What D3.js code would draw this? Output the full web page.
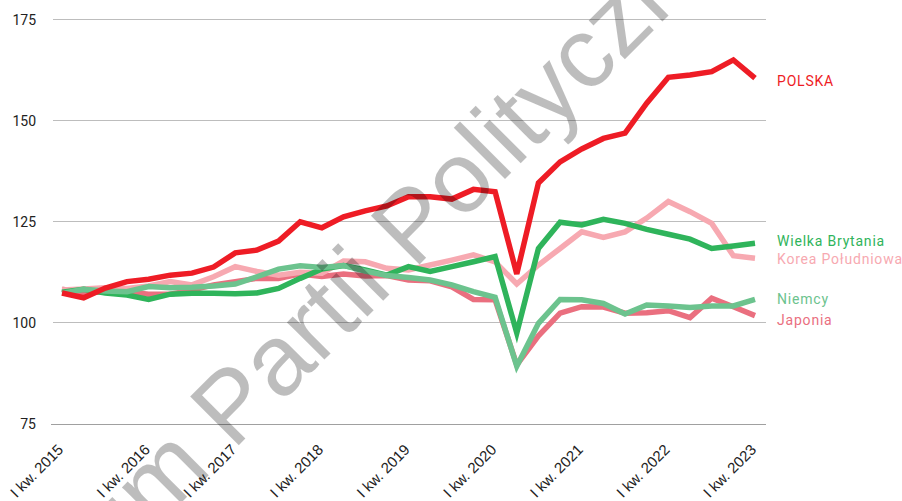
<!DOCTYPE html>
<html><head><meta charset="utf-8">
<script src="https://cdn.jsdelivr.net/npm/d3@7"></script>
<style>body{margin:0;background:#fff}svg{display:block}</style>
</head><body><svg id="c" width="902" height="501"></svg>
<script>
const quarters = [];
const years = [2015,2016,2017,2018,2019,2020,2021,2022,2023];
const qNames = ["I","II","III","IV"];
years.forEach(y => qNames.forEach(q => { if (!(y === 2023 && q !== "I")) quarters.push(q + " kw. " + y); }));

const yTicks = [75,100,125,150,175];

const polska = [107.4,106.2,108.6,110.2,110.8,111.8,112.3,113.8,117.3,118.0,120.2,125.0,123.5,126.2,127.7,128.9,131.2,131.2,130.6,133.0,132.4,112.1,134.6,139.8,143.0,145.6,146.9,154.3,160.7,161.3,162.1,165.0,160.5];
const wielkaBrytania = [107.6,108.3,107.4,106.9,105.8,107.1,107.3,107.3,107.2,107.4,108.5,111.0,113.3,114.2,113.1,111.8,113.9,112.7,113.9,115.1,116.4,97.5,118.4,124.9,124.2,125.6,124.6,123.1,121.9,120.7,118.4,119.0,119.7];
const koreaPoludniowa = [108.1,108.4,108.7,108.5,109.1,110.2,109.4,111.4,113.9,112.7,111.8,112.5,112.3,115.3,115.1,113.5,113.1,114.3,115.5,116.8,115.1,109.6,114.3,118.4,122.5,121.1,122.5,125.9,130.0,127.5,124.6,116.6,116.0];
const niemcy = [107.3,108.3,107.9,107.7,109.0,108.7,108.8,109.1,109.6,111.4,113.3,114.1,113.7,114.2,112.8,111.7,111.2,110.6,109.4,107.7,106.3,89.3,99.9,105.8,105.7,104.8,102.2,104.4,104.2,103.8,104.2,104.2,105.8];
const japonia = [108.3,107.4,107.7,107.7,107.1,107.1,108.1,109.4,110.2,111.0,111.0,112.1,111.5,112.1,111.6,111.7,110.6,110.4,108.9,105.8,105.7,89.6,96.8,102.4,104.0,103.9,102.4,102.5,103.0,101.3,106.1,104.0,101.8];

const seriesNames = ["Japonia","Korea Południowa","Wielka Brytania","Niemcy","POLSKA"];
const seriesValues = [japonia, koreaPoludniowa, wielkaBrytania, niemcy, polska];
const seriesColors = ["#ea6f7f","#f7a9b1","#2fb45b","#6cc38e","#ee1c25"];
const labelY = {"POLSKA":81,"Wielka Brytania":241,"Korea Południowa":259,"Niemcy":299,"Japonia":320};

const svg = d3.select("#c");
const x = d3.scalePoint().domain(quarters).range([62, 755]);
const y = d3.scaleLinear().domain([75,175]).range([424, 19.5]);

// grid
const grid = svg.append("g");
grid.selectAll("line").data(yTicks).join("line")
  .attr("x1", d => d === 75 ? 51 : 53).attr("x2", 766)
  .attr("y1", d => y(d)).attr("y2", d => y(d))
  .attr("stroke", d => d === 75 ? "#a0a0a0" : "#bdbdbd").attr("stroke-width", 1).attr("shape-rendering","crispEdges");

// y axis labels
const yAxis = d3.axisLeft(y).tickValues(yTicks).tickSize(0).tickPadding(0);
const ya = svg.append("g").attr("transform","translate(36,0)").call(yAxis);
ya.select(".domain").remove();
ya.selectAll("text").attr("font-family","Roboto, sans-serif").attr("font-size",14).attr("fill","#222").attr("dy","0.35em");

// x axis labels
const xAxis = d3.axisBottom(x).tickValues(quarters.filter(q => q.startsWith("I kw."))).tickSize(0).tickPadding(0);
const xa = svg.append("g").attr("transform","translate(0,447)").call(xAxis);
xa.select(".domain").remove();
xa.selectAll("text").attr("font-family","'Liberation Sans', Arial, sans-serif").attr("font-size",15).attr("fill","#222")
  .attr("text-anchor","end").attr("dy","0.35em").attr("transform","translate(-2,0) rotate(-45)");

// lines
const line = d3.line().x((d,i) => x(quarters[i])).y(d => y(d));
svg.append("g").selectAll("path").data(seriesValues).join("path")
  .attr("d", d => line(d)).attr("fill","none")
  .attr("stroke", (d,i) => seriesColors[i]).attr("stroke-width", 5.5)
  .attr("stroke-linejoin","miter").attr("stroke-linecap","butt");

// labels
svg.append("g").selectAll("text").data(seriesNames).join("text")
  .attr("x", 777).attr("y", d => labelY[d]).attr("dy","0.35em")
  .attr("font-family","Roboto, sans-serif").attr("font-size",14).attr("letter-spacing","0.8px")
  .attr("fill", (d,i) => seriesColors[i]).text(d => d);

// watermark
svg.append("text").attr("transform","translate(408,276) rotate(-45)")
  .attr("text-anchor","middle").attr("font-family","'Liberation Sans', Arial, sans-serif")
  .attr("font-size",100).attr("fill","#000").attr("fill-opacity",0.26)
  .text("Forum Partii Politycznych");
</script></body></html>
